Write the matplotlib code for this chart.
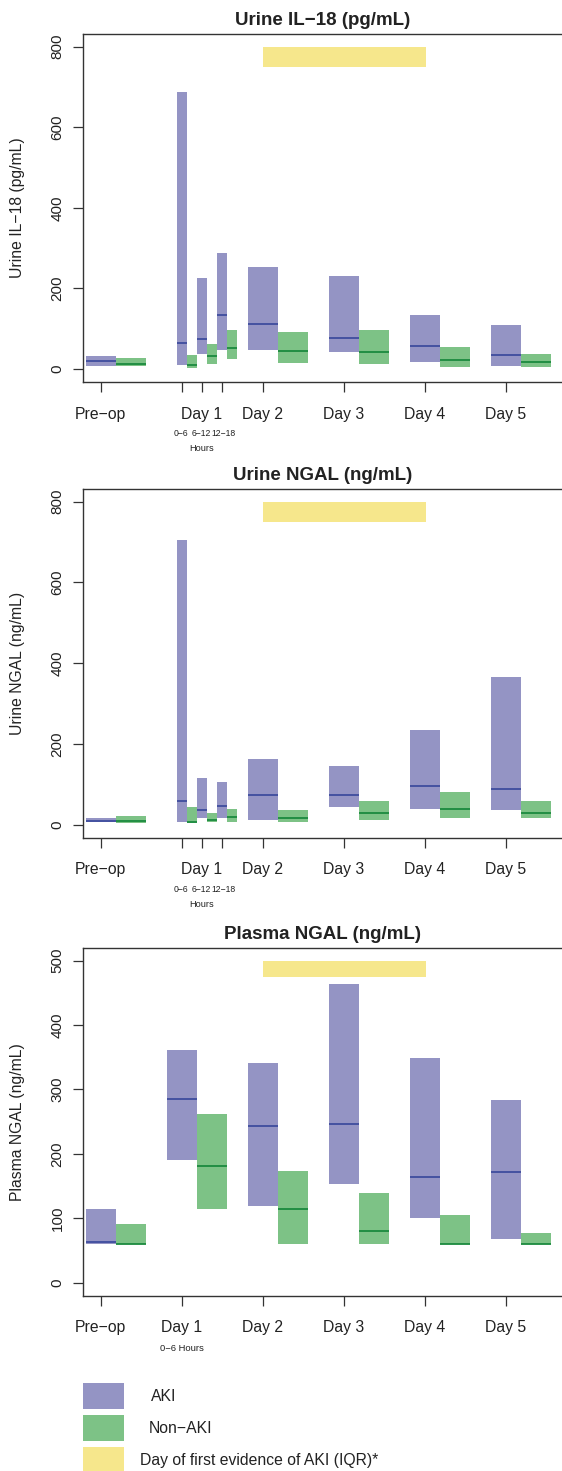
import matplotlib
matplotlib.use("Agg")
import matplotlib.pyplot as plt
from matplotlib.patches import Rectangle
from matplotlib.transforms import blended_transform_factory

plt.rcParams['font.family'] = ['Liberation Sans', 'DejaVu Sans']

# ---------------- data ----------------
day_labels = ["Pre−op", "Day 1", "Day 2", "Day 3", "Day 4", "Day 5"]
hour_bins = ["0−6", "6−12", "12−18"]

# Urine IL-18 (pg/mL): Pre-op, Day1 0-6, 6-12, 12-18, Day2..Day5
il18_aki_q1 = [8, 11, 38, 48, 48, 43, 18, 8]
il18_aki_med = [19, 64, 75, 135, 112, 76, 58, 34]
il18_aki_q3 = [33, 688, 226, 288, 254, 231, 135, 110]
il18_non_q1 = [7, 2, 13, 26, 16, 13, 6, 6]
il18_non_med = [13, 9, 32, 52, 45, 42, 22, 17]
il18_non_q3 = [28, 36, 63, 98, 93, 98, 55, 38]

# Urine NGAL (ng/mL)
ungal_aki_q1 = [7, 8, 16, 18, 13, 43, 38, 36]
ungal_aki_med = [10, 58, 36, 46, 74, 73, 96, 88]
ungal_aki_q3 = [18, 704, 115, 107, 164, 145, 234, 367]
ungal_non_q1 = [4, 4, 7, 8, 7, 13, 18, 16]
ungal_non_med = [10, 8, 13, 19, 17, 29, 40, 30]
ungal_non_q3 = [21, 45, 28, 38, 36, 58, 80, 58]

# Plasma NGAL (ng/mL): Pre-op, Day1 (0-6 h), Day2..Day5
pngal_aki_q1 = [60, 191, 119, 154, 100, 68]
pngal_aki_med = [64, 285, 243, 246, 164, 172]
pngal_aki_q3 = [114, 361, 341, 463, 349, 284]
pngal_non_q1 = [60, 115, 60, 60, 60, 60]
pngal_non_med = [61, 181, 114, 80, 61, 61]
pngal_non_q3 = [92, 262, 173, 139, 106, 78]

# Day of first evidence of AKI (IQR)
aki_day_iqr = (2, 4)

# ---------------- style ----------------
C_AKI = '#9494C4'
C_AKI_MED = '#3E4C9E'
C_NON = '#7DC286'
C_NON_MED = '#1B8A3E'
C_YEL = '#F6E78C'
C_TXT = '#222222'

W, H = 562, 1471
fig = plt.figure(figsize=(W / 100, H / 100), dpi=100)

def fig_rect(left_px, top_px, bottom_px, right_px=W):
    return [left_px / W, 1 - bottom_px / H, (right_px - left_px) / W, (bottom_px - top_px) / H]

XLIM = (-0.22, 5.695)

def style_axes(ax, ylim, yticks, title, ylabel):
    ax.set_xlim(*XLIM)
    ax.set_ylim(*ylim)
    ax.set_yticks(yticks)
    ax.set_yticklabels([str(t) for t in yticks], rotation=90, va='center',
                       fontsize=11, color=C_TXT)
    for s in ['left', 'bottom', 'top']:
        ax.spines[s].set_color('#333333')
        ax.spines[s].set_linewidth(1.0)
    ax.spines['right'].set_visible(False)
    ax.tick_params(axis='both', direction='out', length=7.2, width=0.9, color='#333333')
    ax.tick_params(axis='y', pad=6)
    ax.tick_params(axis='x', pad=10.5, labelsize=11.3, labelcolor=C_TXT)
    ax.set_title(title, fontsize=13.5, fontweight='bold', color=C_TXT, pad=6)
    ax.set_ylabel(ylabel, fontsize=11.3, color=C_TXT)
    ax.yaxis.set_label_coords(-0.1206, 0.5)

def draw_boxes(ax, xs, widths, aki, non):
    (aq1, amed, aq3), (nq1, nmed, nq3) = aki, non
    for i, x in enumerate(xs):
        w = widths[i]
        a_left = x - (0.18 if w > 0.2 else 0.062)
        n_left = a_left + w + (0.005 if w > 0.2 else 0.001)
        ax.bar(a_left, aq3[i] - aq1[i], bottom=aq1[i], width=w, align='edge',
               color=C_AKI, edgecolor='none', zorder=2)
        ax.hlines(amed[i], a_left, a_left + w, colors=C_AKI_MED, lw=1.3, zorder=3)
        ax.bar(n_left, nq3[i] - nq1[i], bottom=nq1[i], width=w, align='edge',
               color=C_NON, edgecolor='none', zorder=2)
        ax.hlines(nmed[i], n_left, n_left + w, colors=C_NON_MED, lw=1.3, zorder=3)

def yellow_band(ax, y0, y1):
    ax.add_patch(Rectangle((aki_day_iqr[0], y0), aki_day_iqr[1] - aki_day_iqr[0] + 0.02,
                           y1 - y0, facecolor=C_YEL, edgecolor='none', zorder=1))

urine_x = [0, 1, 1.25, 1.5, 2, 3, 4, 5]
urine_w = [0.37, 0.125, 0.125, 0.125, 0.37, 0.37, 0.37, 0.37]
urine_ticklabels = [day_labels[0], "", day_labels[1], "", *day_labels[2:]]

def urine_panel(rect, title, ylabel, aki, non):
    ax = fig.add_axes(rect)
    draw_boxes(ax, urine_x, urine_w, aki, non)
    yellow_band(ax, 750, 800)
    style_axes(ax, (-32, 832), [0, 200, 400, 600, 800], title, ylabel)
    ax.set_xticks(urine_x)
    ax.set_xticklabels(urine_ticklabels)
    trans = blended_transform_factory(ax.transData, ax.transAxes)
    offs = [-0.01, -0.01, 0.02]
    for x, lab, o in zip(urine_x[1:4], hour_bins, offs):
        ax.text(x + o, -0.149, lab, transform=trans, ha='center', va='center',
                fontsize=6.2, color=C_TXT)
    ax.text(urine_x[2], -0.192, "Hours", transform=trans, ha='center', va='center',
            fontsize=6.6, color=C_TXT)
    return ax

urine_panel(fig_rect(82.8, 33.7, 382.0), "Urine IL−18 (pg/mL)", "Urine IL−18 (pg/mL)",
            (il18_aki_q1, il18_aki_med, il18_aki_q3), (il18_non_q1, il18_non_med, il18_non_q3))
urine_panel(fig_rect(82.8, 488.7, 837.7), "Urine NGAL (ng/mL)", "Urine NGAL (ng/mL)",
            (ungal_aki_q1, ungal_aki_med, ungal_aki_q3), (ungal_non_q1, ungal_non_med, ungal_non_q3))

# Plasma panel
plasma_x = [0, 1, 2, 3, 4, 5]
ax3 = fig.add_axes(fig_rect(82.8, 947.7, 1295.7))
draw_boxes(ax3, plasma_x, [0.37] * 6,
           (pngal_aki_q1, pngal_aki_med, pngal_aki_q3),
           (pngal_non_q1, pngal_non_med, pngal_non_q3))
yellow_band(ax3, 475, 500)
style_axes(ax3, (-20, 520), [0, 100, 200, 300, 400, 500], "Plasma NGAL (ng/mL)",
           "Plasma NGAL (ng/mL)")
ax3.set_xticks(plasma_x)
ax3.set_xticklabels(day_labels)
trans3 = blended_transform_factory(ax3.transData, ax3.transAxes)
ax3.text(plasma_x[1], -0.152, hour_bins[0] + " Hours", transform=trans3, ha='center',
         va='center', fontsize=6.8, color=C_TXT)

# Legend (manual, R-style)
legend_items = [(C_AKI, "AKI", 151.3, 1383), (C_NON, "Non−AKI", 148.4, 1415),
                (C_YEL, "Day of first evidence of AKI (IQR)*", 140.5, 1447)]
for col, lab, tx, top in legend_items:
    fig.add_artist(Rectangle((83 / W, 1 - (top + 26) / H), 41 / W, 26 / H,
                             transform=fig.transFigure, facecolor=col, edgecolor='none'))
    fig.text(tx / W, 1 - (top + 13.5) / H, lab, ha='left', va='center',
             fontsize=11.3, color=C_TXT)

fig.savefig("out.png", dpi=100)
